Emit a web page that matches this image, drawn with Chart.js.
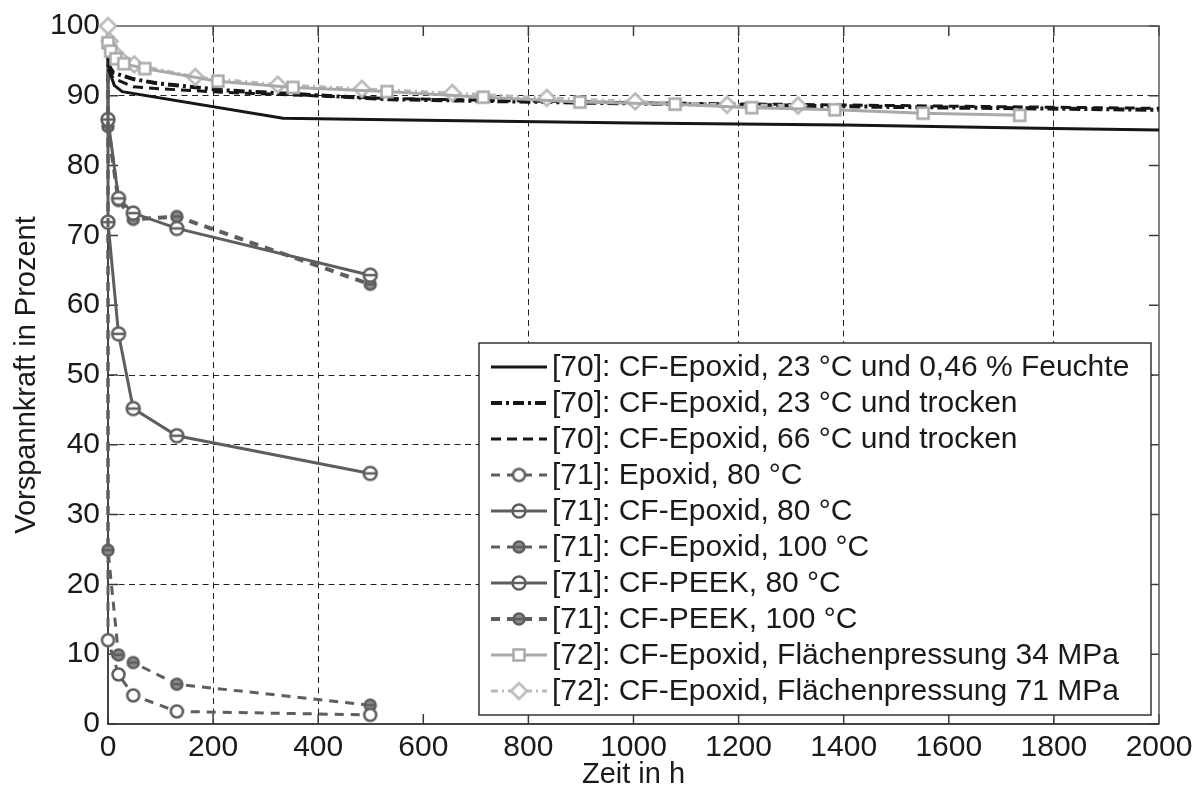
<!DOCTYPE html>
<html>
<head>
<meta charset="utf-8">
<script src="https://cdn.jsdelivr.net/npm/chart.js@4.4.1/dist/chart.umd.min.js"></script>
<style>
  html, body { margin: 0; background: #fff; }
</style>
</head>
<body>
<canvas id="myChart" width="1199" height="789"></canvas>
<script>
// Werte (Zeit in h / Vorspannkraft in %)

// [70] CF-Epoxid
const t70a = [0, 5, 12, 27, 333, 600, 1000, 1400, 1800, 2000];
const f70a = [95.5, 93.0, 91.5, 90.6, 86.8, 86.5, 86.1, 85.8, 85.3, 85.1];     // 23 °C, 0,46 % Feuchte
const t70b = [0, 10, 48, 93, 219, 537, 1000, 1500, 2000];
const f70b = [94.5, 93.3, 92.4, 91.8, 90.8, 89.5, 88.9, 88.4, 88.0];           // 23 °C trocken
const t70c = [0, 10, 48, 100, 219, 537, 1000, 1500, 2000];
const f70c = [93.8, 92.5, 91.3, 91.0, 90.5, 89.6, 89.0, 88.6, 88.2];           // 66 °C trocken

// [71] - erster Punkt (0 h, 100 %) ohne Marker
const t71 = [0, 0, 20, 48, 131, 499];
const f71EpoxA = [100, 12.0, 7.1, 4.1, 1.8, 1.3];      // Epoxid 80 °C
const f71CfEpA = [100, 71.9, 55.9, 45.2, 41.3, 35.9];  // CF-Epoxid 80 °C
const f71CfEpB = [100, 24.9, 9.9, 8.8, 5.7, 2.7];      // CF-Epoxid 100 °C
const f71PeekA = [100, 86.6, 75.3, 73.2, 71.0, 64.3];  // CF-PEEK 80 °C
const f71PeekB = [100, 85.6, 75.0, 72.3, 72.7, 63.0];  // CF-PEEK 100 °C

// [72] CF-Epoxid, Flächenpressung
const t72a = [0, 5, 15, 30, 70, 209, 352, 531, 714, 898, 1079, 1225, 1383, 1551, 1735];
const f72a = [97.6, 96.4, 95.3, 94.6, 93.9, 92.1, 91.2, 90.6, 89.8, 89.1, 88.8, 88.3, 88.0, 87.5, 87.2];
const t72b = [0, 3, 10, 25, 50, 166, 323, 483, 655, 835, 1003, 1178, 1313];
const f72b = [100, 97.8, 96.3, 95.2, 94.5, 92.7, 91.6, 91.0, 90.4, 89.7, 89.2, 88.7, 88.6];

// Achsen
const xTicks = { min: 0, max: 2000, step: 200 };
const yTicks = { min: 0, max: 100, step: 10 };
// im Original sichtbare Gitterlinien
const gridX = [200, 400, 800, 1200, 1400, 1800];
const gridY = [20, 30, 40, 50, 90];

const FONT = '"Liberation Sans", Arial, sans-serif';
const black = '#161616';
const gray71 = '#5e5e5e';
const gray72a = '#a9a9a9';
const gray72b = '#b9b9b9';

function pts(xs, ys) {
  return xs.map((x, i) => ({ x: x, y: ys[i] }));
}

// Marker als kleine Canvas-Bilder
function marker(kind, color, r, lw, fill) {
  const s = Math.ceil(r * 2 + lw + 2);
  const c = document.createElement('canvas');
  c.width = s; c.height = s;
  const g = c.getContext('2d');
  const m = s / 2;
  g.strokeStyle = color;
  g.fillStyle = fill || '#fff';
  g.lineWidth = lw;
  g.beginPath();
  if (kind === 'square') {
    g.rect(m - r, m - r, 2 * r, 2 * r);
  } else if (kind === 'diamond') {
    g.moveTo(m, m - r); g.lineTo(m + r, m); g.lineTo(m, m + r); g.lineTo(m - r, m); g.closePath();
  } else {
    g.arc(m, m, r, 0, Math.PI * 2);
  }
  g.fill();
  g.stroke();
  if (kind === 'bar') {
    g.beginPath();
    g.moveTo(m - r, m); g.lineTo(m + r, m);
    g.stroke();
  }
  return c;
}

const mOpen = marker('circle', gray71, 6, 2.5);
const mBar = marker('bar', gray71, 6.5, 2.5);
const mBarFill = marker('bar', gray71, 5.5, 2.5, '#8a8a8a');
const mSquare = marker('square', gray72a, 5.5, 2.5);
const mDiamond = marker('diamond', gray72b, 8, 2.5);

function r71(n) { return t71.map((_, i) => i === 0 ? 0 : n); }

const datasets = [
  { label: '[70]: CF-Epoxid, 23 °C und 0,46 % Feuchte', data: pts(t70a, f70a),
    borderColor: black, borderWidth: 3, pointRadius: 0, order: 1 },
  { label: '[70]: CF-Epoxid, 23 °C und trocken', data: pts(t70b, f70b),
    borderColor: black, borderWidth: 4, borderDash: [11, 4, 3, 4], pointRadius: 0, order: 1 },
  { label: '[70]: CF-Epoxid, 66 °C und trocken', data: pts(t70c, f70c),
    borderColor: black, borderWidth: 3, borderDash: [10, 6], pointRadius: 0, order: 1 },
  { label: '[71]: Epoxid, 80 °C', data: pts(t71, f71EpoxA),
    borderColor: gray71, borderWidth: 3, borderDash: [9, 7], pointStyle: mOpen, pointRadius: r71(6), order: 2 },
  { label: '[71]: CF-Epoxid, 80 °C', data: pts(t71, f71CfEpA),
    borderColor: gray71, borderWidth: 3, pointStyle: mBar, pointRadius: r71(6), order: 2 },
  { label: '[71]: CF-Epoxid, 100 °C', data: pts(t71, f71CfEpB),
    borderColor: gray71, borderWidth: 3, borderDash: [9, 7], pointStyle: mBarFill, pointRadius: r71(6), order: 2 },
  { label: '[71]: CF-PEEK, 80 °C', data: pts(t71, f71PeekA),
    borderColor: gray71, borderWidth: 3, pointStyle: mBar, pointRadius: r71(6), order: 2 },
  { label: '[71]: CF-PEEK, 100 °C', data: pts(t71, f71PeekB),
    borderColor: gray71, borderWidth: 4, borderDash: [9, 7], pointStyle: mBarFill, pointRadius: r71(6), order: 2 },
  { label: '[72]: CF-Epoxid, Flächenpressung 34 MPa', data: pts(t72a, f72a),
    borderColor: gray72a, borderWidth: 3, pointStyle: mSquare, pointRadius: 6, order: 0 },
  { label: '[72]: CF-Epoxid, Flächenpressung 71 MPa', data: pts(t72b, f72b),
    borderColor: gray72b, borderWidth: 3, borderDash: [7, 4, 2, 4], pointStyle: mDiamond, pointRadius: 8, order: 0 }
];
datasets.forEach(d => { d.tension = 0; d.clip = false; d.fill = false; });

// Rahmen und nach innen zeigende Ticks (Matlab-Stil)
const frame = {
  id: 'frame',
  beforeDatasetsDraw(chart) {
    const { ctx, chartArea: a, scales: { x, y } } = chart;
    ctx.save();
    ctx.lineWidth = 1.5;
    ctx.strokeStyle = '#3a3a3a';
    ctx.beginPath();
    x.ticks.forEach(t => {
      const px = x.getPixelForValue(t.value);
      ctx.moveTo(px, a.bottom); ctx.lineTo(px, a.bottom - 10);
      ctx.moveTo(px, a.top); ctx.lineTo(px, a.top + 10);
    });
    y.ticks.forEach(t => {
      const py = y.getPixelForValue(t.value);
      ctx.moveTo(a.left, py); ctx.lineTo(a.left + 10, py);
      ctx.moveTo(a.right, py); ctx.lineTo(a.right - 10, py);
    });
    ctx.stroke();
    ctx.strokeStyle = '#5a5a5a';
    ctx.strokeRect(a.left, a.top, a.right - a.left, a.bottom - a.top);
    ctx.strokeStyle = '#333';
    ctx.beginPath();
    ctx.moveTo(a.left, a.top); ctx.lineTo(a.left, a.bottom); ctx.lineTo(a.right, a.bottom);
    ctx.stroke();
    ctx.restore();
  }
};

// Legende unten rechts im Diagramm mit Linie + Marker
const boxLegend = {
  id: 'boxLegend',
  afterDatasetsDraw(chart) {
    const { ctx, chartArea: a } = chart;
    const sets = chart.data.datasets;
    const rowH = 36, w = 672;
    const h = rowH * sets.length + 12;
    const right = a.right - 8, bottom = a.bottom - 9;
    const left = right - w, top = bottom - h;
    ctx.save();
    ctx.fillStyle = '#fff';
    ctx.fillRect(left, top, w, h);
    ctx.lineWidth = 1.5;
    ctx.strokeStyle = '#333';
    ctx.strokeRect(left, top, w, h);
    sets.forEach((d, i) => {
      const cy = top + 24 + i * rowH;
      ctx.save();
      ctx.strokeStyle = d.borderColor;
      ctx.lineWidth = d.borderWidth;
      ctx.setLineDash(d.borderDash || []);
      ctx.beginPath();
      ctx.moveTo(left + 12, cy); ctx.lineTo(left + 68, cy);
      ctx.stroke();
      ctx.restore();
      if (d.pointStyle && d.pointStyle.width) {
        const m = d.pointStyle;
        ctx.drawImage(m, left + 40 - m.width / 2, cy - m.height / 2);
      }
      ctx.fillStyle = '#1a1a1a';
      ctx.font = '30px ' + FONT;
      ctx.textBaseline = 'middle';
      ctx.fillText(d.label, left + 73, cy + 1);
    });
    ctx.restore();
  }
};

const ctx = document.getElementById('myChart').getContext('2d');
const chart = new Chart(ctx, {
  type: 'line',
  data: { datasets: datasets },
  plugins: [frame, boxLegend],
  options: {
    responsive: false,
    animation: false,
    layout: { padding: { top: 24, right: 40, left: 0, bottom: 0 } },
    plugins: { legend: { display: false }, tooltip: { enabled: false } },
    scales: {
      x: {
        type: 'linear',
        min: xTicks.min, max: xTicks.max,
        afterFit: s => { s.height = 65; },
        ticks: { stepSize: xTicks.step, padding: 6, color: '#1a1a1a', font: { family: FONT, size: 30 },
          maxRotation: 0, callback: v => String(v) },
        grid: {
          drawTicks: false,
          lineWidth: 1,
          color: c => gridX.includes(c.tick && c.tick.value) ? '#222' : 'rgba(0,0,0,0)'
        },
        border: { display: false, dash: [6, 4.5] },
        title: { display: true, text: 'Zeit in h', color: '#1a1a1a', padding: 0,
          font: { family: FONT, size: 29, lineHeight: 1 } }
      },
      y: {
        min: yTicks.min, max: yTicks.max,
        afterFit: s => { s.width = 108; },
        ticks: { stepSize: yTicks.step, padding: 8, color: '#1a1a1a', font: { family: FONT, size: 30 },
          callback: v => String(v) },
        grid: {
          drawTicks: false,
          lineWidth: 1,
          color: c => gridY.includes(c.tick && c.tick.value) ? '#222' : 'rgba(0,0,0,0)'
        },
        border: { display: false, dash: [6, 4.5] },
        title: { display: true, text: 'Vorspannkraft in Prozent', color: '#1a1a1a', padding: { top: 12, bottom: 0 },
          font: { family: FONT, size: 29, lineHeight: 1 } }
      }
    }
  }
});
</script>
</body>
</html>
